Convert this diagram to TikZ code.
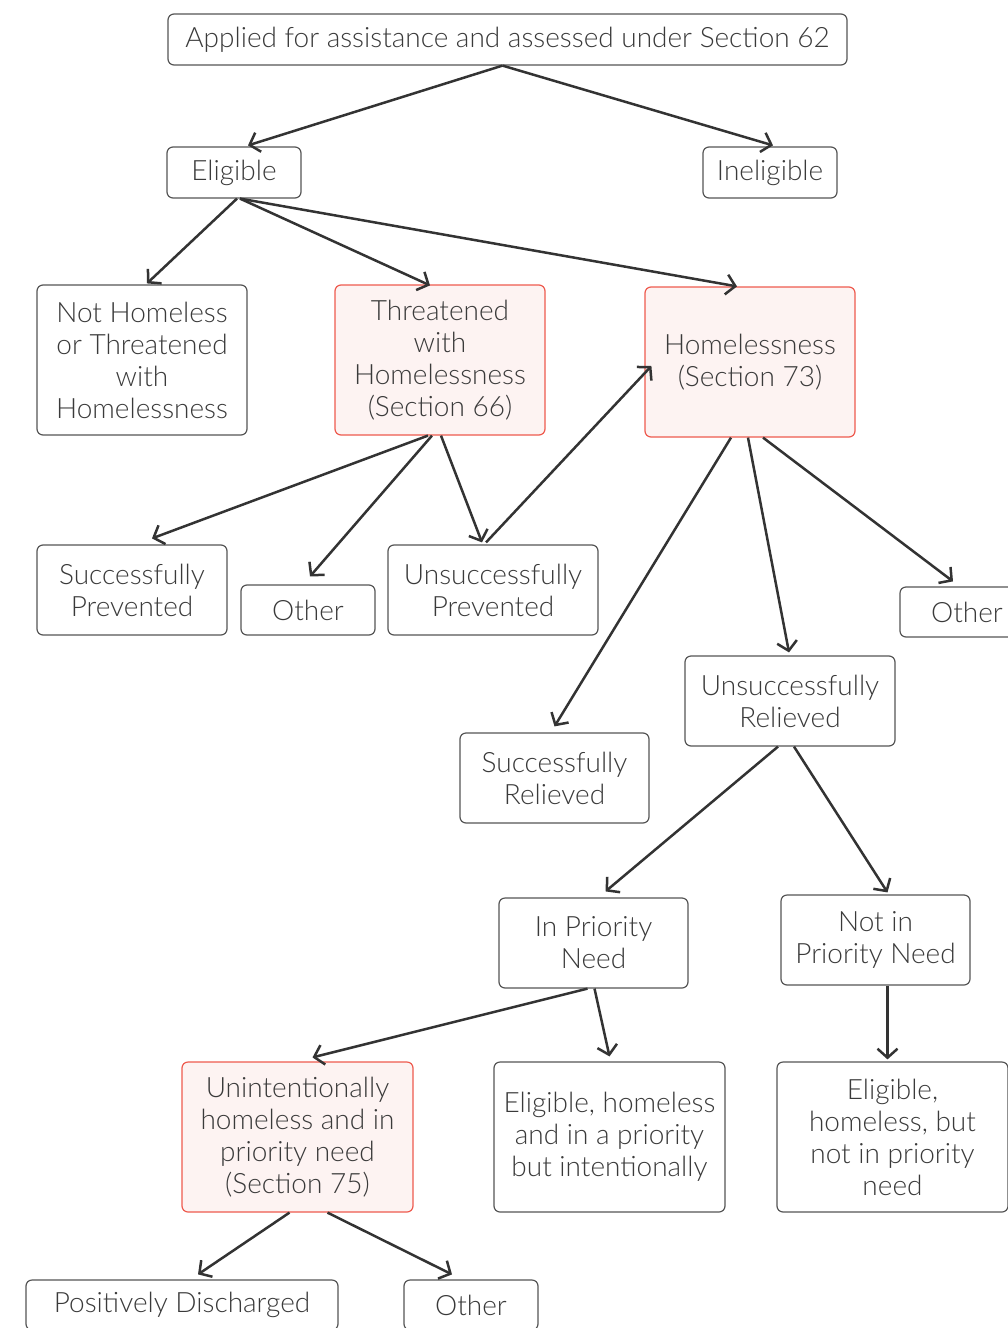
\documentclass[tikz,border=0pt]{standalone}
\usepackage{fontspec}
\setmainfont{Lato Light}
\usepackage{xcolor}
\usepackage{tikz}
\usetikzlibrary{arrows.meta,calc}

\definecolor{boxline}{HTML}{555555}
\definecolor{inktext}{HTML}{3A3A3A}
\definecolor{redline}{HTML}{EE5A4E}
\definecolor{redfill}{HTML}{FDF3F2}
\definecolor{arrowink}{HTML}{333333}

\tikzset{
  box/.style={draw=boxline, line width=1.2pt, rounded corners=6pt, fill=white, text=inktext,
    align=center, inner sep=0pt, font=\fontsize{28}{32}\selectfont},
  redbox/.style={box, draw=redline, fill=redfill},
  flow/.style={draw=arrowink, line width=2.5pt, -{Straight Barb[length=9pt,width=20pt]}},
}

\begin{document}
\begin{tikzpicture}[x=1pt,y=-1pt]
\useasboundingbox (0,0) rectangle (1008,1328);
\clip (0,0) rectangle (1008,1328);

% boxes
\node[box, minimum width=679, minimum height=51] (applied) at (507.5,39.5) {Applied for assistance and assessed under Section 62};
\node[box, minimum width=134, minimum height=51] (elig) at (234,172.5) {Eligible};
\node[box, minimum width=134, minimum height=51] (inelig) at (770,172.5) {Ineligible};
\node[box, minimum width=210, minimum height=150] (nothome) at (142,360) {Not Homeless\\or Threatened\\with\\Homelessness};
\node[redbox, minimum width=210, minimum height=150] (threat) at (440,360) {Threatened\\with\\Homelessness\\(Section 66)};
\node[redbox, minimum width=210, minimum height=150] (home) at (750,362) {Homelessness\\(Section 73)};
\node[box, minimum width=190, minimum height=90] (succprev) at (132,590) {Successfully\\Prevented};
\node[box, minimum width=134, minimum height=50] (otherprev) at (308,610) {Other};
\node[box, minimum width=210, minimum height=90] (unsuccprev) at (493,590) {Unsuccessfully\\Prevented};
\node[box, minimum width=134, minimum height=50] (otherrel) at (967,612) {Other};
\node[box, minimum width=210, minimum height=90] (unsuccrel) at (790,701) {Unsuccessfully\\Relieved};
\node[box, minimum width=189, minimum height=90] (succrel) at (554.5,778) {Successfully\\Relieved};
\node[box, minimum width=189, minimum height=90] (prio) at (593.5,943) {In Priority\\Need};
\node[box, minimum width=189, minimum height=90] (noprio) at (875.5,940) {Not in\\Priority Need};
\node[redbox, minimum width=231, minimum height=150] (unint) at (297.5,1137) {Unintentionally\\homeless and in\\priority need\\(Section 75)};
\node[box, minimum width=231, minimum height=150] (intent) at (609.5,1137) {Eligible, homeless\\and in a priority\\but intentionally};
\node[box, minimum width=231, minimum height=150] (notneed) at (892.5,1137) {Eligible,\\homeless, but\\not in priority\\need};
\node[box, minimum width=312, minimum height=50] (posdis) at (182,1305) {Positively Discharged};
\node[box, minimum width=134, minimum height=50] (otherdis) at (471,1305) {Other};

% connectors
\draw[flow] ($(applied.south)+(-5,0)$) -- ($(elig.north)+(14,-1)$);
\draw[flow] ($(applied.south)+(-5,0)$) -- ($(inelig.north)+(3,-1)$);
\draw[flow] ($(elig.south)+(3,0)$) -- ($(nothome.north)+(5,-1)$);
\draw[flow] ($(elig.south)+(6,0)$) -- ($(threat.north)+(-10,1)$);
\draw[flow] ($(elig.south)+(6,0)$) -- ($(home.north)+(-13,0)$);
\draw[flow] ($(threat.south)+(-12,0)$) -- ($(succprev.north)+(20,-6)$);
\draw[flow] ($(threat.south)+(-8,0)$) -- ($(otherprev.north)+(2,-8)$);
\draw[flow] ($(threat.south)+(1,0)$) -- ($(unsuccprev.north)+(-11,-2)$);
\draw[flow] ($(unsuccprev.north)+(-7,-2)$) -- ($(home.west)+(7,4)$);
\draw[flow] ($(home.south)+(-19,0)$) -- ($(succrel.north)+(0,-6)$);
\draw[flow] ($(home.south)+(-2,0)$) -- ($(unsuccrel.north)+(-1,-3)$);
\draw[flow] ($(home.south)+(13,0)$) -- ($(otherrel.north)+(-14,-5)$);
\draw[flow] ($(unsuccrel.south)+(-12,0)$) -- ($(prio.north)+(12,-6)$);
\draw[flow] ($(unsuccrel.south)+(4,0)$) -- ($(noprio.north)+(12,-2)$);
\draw[flow] ($(prio.south)+(-6,0)$) -- ($(unint.north)+(15,-4)$);
\draw[flow] ($(prio.south)+(1,0)$) -- ($(intent.north)+(0,-5)$);
\draw[flow] ($(noprio.south)+(12,0)$) -- ($(notneed.north)+(-5,-2)$);
\draw[flow] ($(unint.south)+(-8,0)$) -- ($(posdis.north)+(16,-5)$);
\draw[flow] ($(unint.south)+(30,0)$) -- ($(otherdis.north)+(-19,-5)$);
\end{tikzpicture}
\end{document}
